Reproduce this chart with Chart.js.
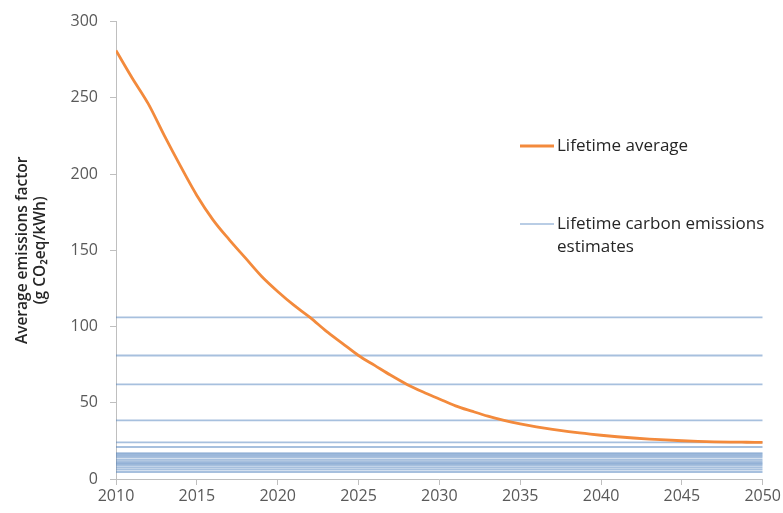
<!DOCTYPE html>
<html>
<head>
<meta charset="utf-8">
<script src="https://cdn.jsdelivr.net/npm/chart.js@4/dist/chart.umd.min.js"></script>
<style>
  html, body { margin: 0; padding: 0; background: #ffffff; }
  #wrap { position: relative; width: 783px; height: 513px; }
</style>
</head>
<body>
<div id="wrap"><canvas id="c" width="783" height="513"></canvas></div>
<script>
// ---- Data ----
const years = [2010,2011,2012,2013,2014,2015,2016,2017,2018,2019,2020,2021,2022,2023,2024,2025,2026,2027,2028,2029,2030,2031,2032,2033,2034,2035,2036,2037,2038,2039,2040,2041,2042,2043,2044,2045,2046,2047,2048,2049,2050];
const lifetimeAverage = [281,263,246,225,205,186,170,157,145,133,123,114,106,97,89,81,74.5,68,62,57,52.5,48,44.5,41.2,38.5,36.2,34.2,32.5,31.1,29.9,28.7,27.7,26.9,26.2,25.6,25.1,24.7,24.4,24.2,24.1,24];
const carbonEstimates = [106,81,62,38.5,24,21,17,16.2,15.3,14.4,12.8,11.5,10.6,9.7,8.8,7.5,6.2,4.6];
const xTicks = [2010,2015,2020,2025,2030,2035,2040,2045,2050];
const yTicks = [0,50,100,150,200,250,300];
const legendLabels = ['Lifetime average', ['Lifetime carbon emissions', 'estimates']];
const yTitle = ['Average emissions factor', '(g CO\u2082eq/kWh)'];

const ORANGE = '#F38A3C';
const BLUE = 'rgba(79,129,189,0.5)';
const AXIS = '#BFBFBF';
const FONT = "'Open Sans', 'Noto Sans', sans-serif";

const datasets = [];
carbonEstimates.forEach((v) => {
  datasets.push({
    label: 'Lifetime carbon emissions estimates',
    data: [{x: years[0], y: v}, {x: years[years.length-1], y: v}],
    borderColor: BLUE,
    borderWidth: 1.8,
    pointRadius: 0,
    fill: false,
    order: 2
  });
});
datasets.push({
  label: 'Lifetime average',
  data: years.map((y, i) => ({x: y, y: lifetimeAverage[i]})),
  borderColor: ORANGE,
  borderWidth: 2.8,
  pointRadius: 0,
  cubicInterpolationMode: 'monotone',
  fill: false,
  order: 1
});

const legendPlugin = {
  id: 'customLegend',
  afterDraw(chart) {
    const ctx = chart.ctx;
    ctx.save();
    ctx.font = "17px " + FONT;
    ctx.fillStyle = '#262626';
    ctx.textBaseline = 'middle';
    ctx.strokeStyle = ORANGE; ctx.lineWidth = 2.8;
    ctx.beginPath(); ctx.moveTo(520, 146); ctx.lineTo(554, 146); ctx.stroke();
    ctx.fillText(legendLabels[0], 557, 146);
    ctx.strokeStyle = 'rgba(79,129,189,0.4)'; ctx.lineWidth = 1.8;
    ctx.beginPath(); ctx.moveTo(520, 224); ctx.lineTo(554, 224); ctx.stroke();
    ctx.fillText(legendLabels[1][0], 557, 224);
    ctx.fillText(legendLabels[1][1], 557, 247);
    ctx.restore();
  }
};

new Chart(document.getElementById('c'), {
  type: 'line',
  data: { datasets },
  options: {
    responsive: false,
    animation: false,
    devicePixelRatio: 1,
    layout: { padding: { top: 20, right: 20, left: 0, bottom: 0 } },
    plugins: { legend: { display: false }, tooltip: { enabled: false } },
    scales: {
      x: {
        type: 'linear',
        min: 2010, max: 2050,
        afterBuildTicks: (s) => { s.ticks = xTicks.map(v => ({value: v})); },
        afterFit: (s) => { s.height = 34; },
        ticks: {
          callback: (v) => String(v),
          color: '#595959',
          font: { family: FONT, size: 16 },
          padding: 2,
          maxRotation: 0
        },
        grid: { drawOnChartArea: false, drawTicks: true, tickLength: 6, color: AXIS },
        border: { color: AXIS, width: 1 }
      },
      y: {
        min: 0, max: 300,
        afterBuildTicks: (s) => { s.ticks = yTicks.map(v => ({value: v})); },
        afterFit: (s) => { s.width = 116; },
        ticks: {
          color: '#595959',
          font: { family: FONT, size: 16 },
          padding: 12
        },
        title: {
          display: true,
          text: yTitle,
          color: '#262626',
          font: { family: FONT, size: 15.5, weight: '600' },
          padding: { top: 13, bottom: 0 },
          lineHeight: 1.2
        },
        grid: { drawOnChartArea: false, drawTicks: true, tickLength: 6, color: AXIS },
        border: { color: AXIS, width: 1 }
      }
    }
  },
  plugins: [legendPlugin]
});
</script>
</body>
</html>
